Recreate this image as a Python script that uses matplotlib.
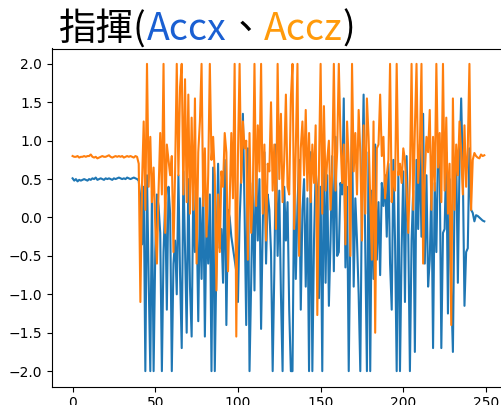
import matplotlib
matplotlib.use("Agg")
import matplotlib.pyplot as plt

# Accx: flat ~0.5 while still, then the "conducting" gesture starts around sample 40
accx_still = [0.51, 0.48, 0.50, 0.47, 0.49, 0.48, 0.49, 0.50, 0.49, 0.48,
              0.50, 0.49, 0.51, 0.50, 0.52, 0.49, 0.50, 0.51, 0.50, 0.49,
              0.51, 0.50, 0.51, 0.50, 0.49, 0.51, 0.50, 0.51, 0.52, 0.51,
              0.50, 0.51, 0.50, 0.52, 0.51, 0.50, 0.51, 0.52, 0.51, 0.50]
accx_move = [0.48, 0.25, -0.35, 0.40, -2.00, 0.55, -0.80, -2.00, 0.35, -2.00,
             -0.45, 0.30, 0.15, -0.20, -2.00, -0.45, 0.20, -1.20, 0.40, 0.05,
             -2.00, -0.60, -0.30, -1.00, 0.55, -0.75, -1.70, 0.60, -0.40, -1.50,
             0.50, -0.90, -1.55, 0.35, -0.45, 0.05, -1.35, 0.25, -0.80, 0.45,
             -1.55, 0.05, -0.60, 0.30, -2.00, 0.65, -2.00, -0.55, 0.70, -0.40,
             -0.15, -0.85, 0.75, -1.40, 0.10, 0.00, -0.25, -0.40, -0.55, -0.70,
             -1.10, -0.05, 0.55, 1.35, 0.10, -1.40, 0.90, -2.00, -0.85, 0.45,
             -0.95, 0.75, -0.30, 0.50, -1.45, -0.10, 0.85, -0.60, 0.30, 0.10,
             -0.45, -2.00, -0.70, 0.95, -0.50, 0.35, -1.00, -2.00, 0.40, -0.30,
             0.20, -1.20, -2.00, -2.00, 0.45, -0.80, 0.15, 0.75, -1.20, 0.10,
             0.50, -0.90, 0.25, -2.00, 0.85, -2.00, -0.30, 0.60, 0.35, -1.05,
             0.40, -2.00, 0.95, -0.85, 0.55, -1.15, -0.30, 0.80, -0.70, 1.05,
             -0.50, -0.45, 0.45, 0.30, 1.55, -0.65, 0.40, -2.00, -0.15, 1.20,
             -0.90, 0.25, -0.30, -1.00, -2.00, 0.40, 1.60, -0.40, -2.00, 0.85,
             -2.00, 0.35, -0.80, 0.95, -0.55, 0.20, -0.75, 0.45, 0.15, 0.55,
             -0.25, 0.70, -0.60, -1.20, 0.75, -0.30, -2.00, 0.55, -2.00, -0.40,
             0.60, -1.10, 0.80, -0.20, -2.00, -0.30, 0.35, -1.75, 0.75, -0.15,
             0.95, -0.25, 1.35, -0.60, 0.55, -0.90, -0.55, 0.40, -1.70, 0.45,
             -0.45, 0.90, 0.70, -1.70, -0.20, -0.15, 0.85, -1.25, 0.50, -0.95,
             -1.75, 0.30, 0.80, -0.85, 0.70, 1.55, 0.60, -1.15, -0.45, -0.40,
             0.90, 0.10]
accx_end = [0.06, -0.05, 0.03, 0.02, 0.00, -0.02, -0.04, -0.05]

# Accz: flat ~0.8 while still
accz_still = [0.80, 0.79, 0.79, 0.80, 0.78, 0.79, 0.79, 0.80, 0.79, 0.80,
              0.80, 0.82, 0.79, 0.78, 0.79, 0.77, 0.78, 0.79, 0.80, 0.79,
              0.79, 0.80, 0.81, 0.79, 0.78, 0.79, 0.80, 0.79, 0.80, 0.79,
              0.80, 0.78, 0.79, 0.80, 0.79, 0.80, 0.79, 0.78, 0.80, 0.79]
accz_move = [0.70, -1.10, 0.45, 1.25, 0.10, 2.00, 0.40, 1.05, 0.20, 0.65,
             -0.10, -0.60, 0.35, 1.10, 0.30, 2.00, -0.20, 0.95, 0.75, 0.55,
             0.80, -0.45, 0.60, 2.00, 0.55, 1.70, 2.00, 0.30, 1.80, 0.20,
             1.60, 0.05, 1.30, 0.10, 1.55, -0.60, 0.85, 1.25, 2.00, 0.15,
             0.90, -0.25, 0.55, 2.00, 0.75, 1.05, 0.55, -0.95, 0.30, -0.45,
             0.60, 0.40, 1.10, 0.85, -0.70, 0.20, 1.10, 0.25, 2.00, -1.55,
             0.80, 2.00, 0.45, 1.25, 0.90, 1.00, -0.55, 1.10, -0.20, 0.30,
             2.00, 0.15, 1.20, 0.60, 2.00, 0.05, 0.95, -0.30, 0.70, 0.60,
             1.50, 0.35, 0.95, -0.15, 2.00, 0.50, 1.35, 0.20, 0.75, 1.60,
             0.40, 0.30, 1.55, 2.00, -0.15, 0.95, 2.00, -0.50, 0.90, 1.25,
             0.55, 1.40, 0.35, 1.10, 0.20, 0.95, 0.45, 1.20, -1.27, 0.65,
             2.00, 0.05, 1.45, 0.35, 0.75, 1.00, 0.10, 0.60, 2.00, 0.35,
             0.85, 2.00, 1.05, 0.45, 0.95, -0.35, 1.25, 0.70, -0.50, 2.00,
             0.60, 1.10, 0.30, 1.40, 0.85, -0.30, 1.20, 0.05, 1.55, 1.05,
             0.25, -0.55, 1.25, -1.50, 0.90, 0.95, 1.60, 0.80, 1.05, 0.25,
             0.55, 0.75, 2.00, 0.20, 0.60, 0.35, 2.00, 0.55, 0.70, 0.45,
             0.90, 0.75, 0.35, -0.20, 0.50, 2.00, 0.10, 1.15, 2.00, 0.45,
             0.90, 2.00, -0.60, 0.55, 1.05, 0.85, 1.40, 0.10, 1.05, 0.35,
             2.00, 0.65, 1.10, 0.20, 2.00, 0.35, 1.30, 0.05, 0.70, -1.40,
             1.55, 0.10, 0.95, 0.55, 1.25, 0.85, 0.30, 1.20, 0.40, 0.90,
             2.00, 0.10]
accz_end = [0.75, 0.84, 0.80, 0.78, 0.77, 0.82, 0.80, 0.81]

accx = accx_still + accx_move + accx_end
accz = accz_still + accz_move + accz_end

title_parts = [("指揮(", "black"), ("Accx", "#1a5fd2"), ("、", "black"),
               ("Accz", "#ff9a0a"), (")", "black")]

fig = plt.figure(figsize=(5.01, 4.05), dpi=100)
ax = fig.add_axes([52 / 501, 1 - 386.5 / 405, 0.904, 338 / 405])
ax.plot(accx)
ax.plot(accz)

# multi-coloured title, pieces laid side by side
renderer = fig.canvas.get_renderer()
x = 59 / 501
for txt, col in title_parts:
    t = fig.text(x, 1 - 40 / 405, txt, color=col, fontsize=27,
                 family=["Noto Sans CJK TC", "DejaVu Sans"], va="baseline")
    bb = t.get_window_extent(renderer)
    x += bb.width / fig.bbox.width

fig.savefig("out.png", dpi=100)
